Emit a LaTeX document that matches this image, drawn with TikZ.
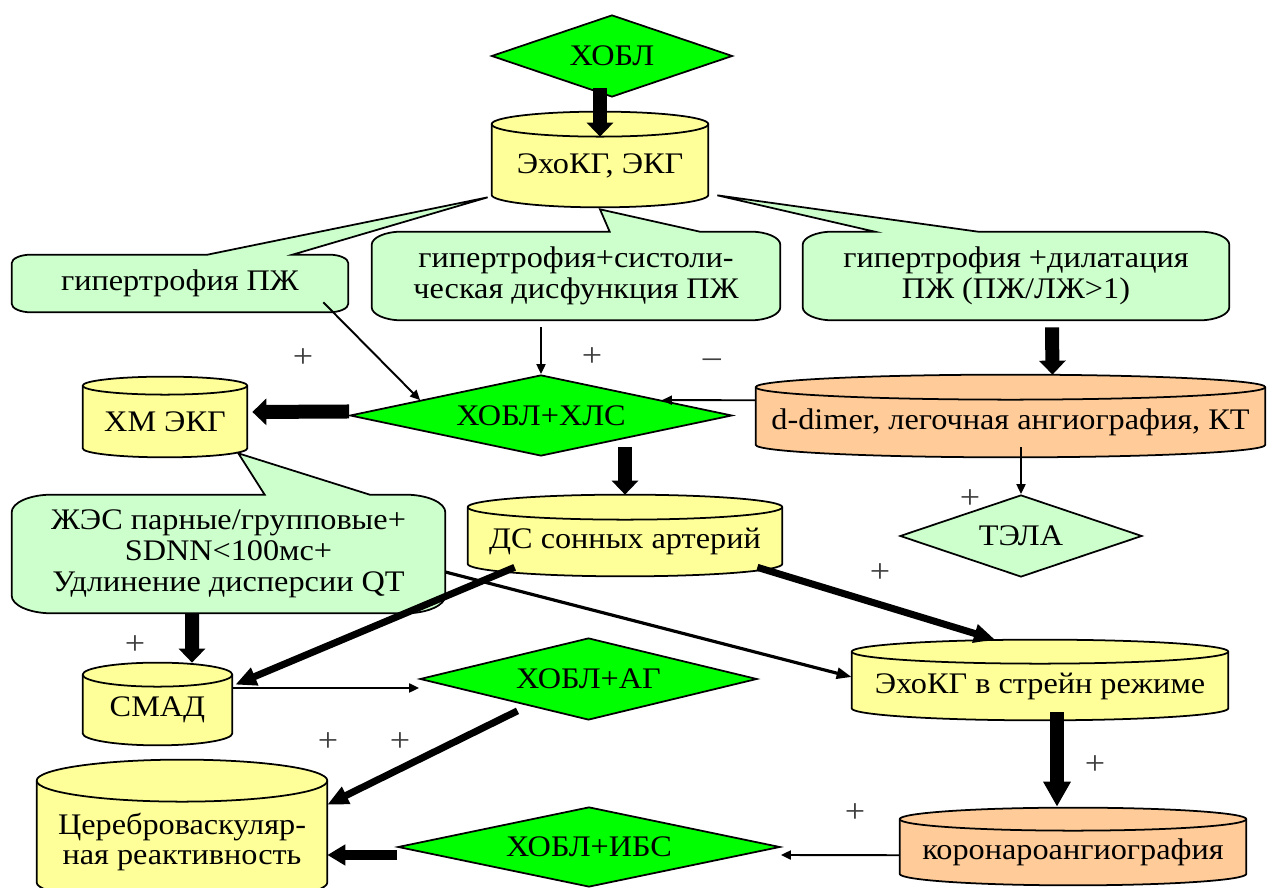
\documentclass[tikz,border=0pt]{standalone}
\usepackage{fontspec}
\setmainfont{Liberation Serif}[FakeStretch=1.08]
\usetikzlibrary{shapes.geometric, arrows.meta, calc, backgrounds}
\definecolor{mygreen}{RGB}{0,255,0}
\definecolor{mylightgreen}{RGB}{204,255,204}
\definecolor{myyellow}{RGB}{255,255,153}
\definecolor{myorange}{RGB}{255,204,153}

% cylinder behind a named node: node, fill, half height of the end ellipse
\newcommand{\drum}[3]{%
  \draw[fill=#2, line width=1pt] let \p1=($(#1.east)-(#1.west)$) in
    (#1.north west) -- ([yshift=#3]#1.south west)
    arc[start angle=180, end angle=360, x radius=0.5*\x1, y radius=#3]
    -- (#1.north east)
    arc[start angle=0, end angle=180, x radius=0.5*\x1, y radius=#3] -- cycle;
  \draw[line width=1pt] let \p1=($(#1.east)-(#1.west)$) in
    (#1.north west) arc[start angle=180, end angle=360, x radius=0.5*\x1, y radius=#3];
}
% speech bubble behind a named node: node, tip, pointer base (from left edge)
\newcommand{\bubble}[4]{%
  \draw[fill=mylightgreen, line width=1pt] let \p1=($(#1.north east)-(#1.south west)$), \n1={0.15*\y1}, \n2={0.34*\y1} in
    ($(#1.north west)+(#3,0)$) -- (#2) -- ($(#1.north west)+(#4,0)$)
    -- ($(#1.north east)-(\n2,0)$) arc[start angle=90, end angle=0, x radius=\n2, y radius=\n1]
    -- ($(#1.south east)+(0,\n1)$) arc[start angle=0, end angle=-90, x radius=\n2, y radius=\n1]
    -- ($(#1.south west)+(\n2,0)$) arc[start angle=270, end angle=180, x radius=\n2, y radius=\n1]
    -- ($(#1.north west)-(0,\n1)$) arc[start angle=180, end angle=90, x radius=\n2, y radius=\n1]
    -- cycle;
}

\begin{document}
\begin{tikzpicture}[font=\fontsize{17}{17.6}\selectfont,
  decision/.style={diamond, draw, line width=1pt, fill=mygreen, aspect=4, inner sep=0pt},
  store/.style={inner sep=0pt, align=center},
  sign/.style={text=black!75, font=\fontsize{19}{19}\selectfont, inner sep=0pt},
  link/.style={line width=1.1pt, -{Triangle[length=0.2cm,width=0.18cm]}},
  midlink/.style={line width=1.8pt, -{Triangle[length=0.3cm,width=0.22cm]}},
  boldlink/.style={line width=4pt, -{Triangle[length=0.42cm,width=0.36cm]}},
  blockarrow/.style={line width=0.28cm, -{Triangle[length=0.28cm,width=0.52cm]}}]
  \useasboundingbox (0,0) rectangle (25.4,17.76);

  % ХОБЛ
  \node (hobl) at (12.24,16.64) [decision, minimum width=4.82cm, minimum height=1.64cm] {ХОБЛ};

  % ЭхоКГ, ЭКГ
  \node (echo) at (12,14.445) [store, minimum width=4.32cm, minimum height=1.65cm] {ЭхоКГ, ЭКГ};

  % findings
  \node (hyp1) at (3.6,12.09) [store, minimum width=6.72cm, minimum height=1.14cm] {гипертрофия ПЖ};
  \node (hyp2) at (11.52,12.24) [store, minimum width=8.16cm, minimum height=1.76cm] {гипертрофия+систоли-\\ческая дисфункция ПЖ};
  \node (hyp3) at (20.32,12.24) [store, minimum width=8.52cm, minimum height=1.76cm] {гипертрофия +дилатация\\ПЖ (ПЖ/ЛЖ>1)};

  % ХОБЛ+ХЛС
  \node (hls) at (10.82,9.45) [decision, minimum width=7.64cm, minimum height=1.62cm] {ХОБЛ+ХЛС};
  \node (hmekg) at (3.3,9.33) [store, minimum width=3.28cm, minimum height=1.42cm] {ХМ ЭКГ};
  \node (ddim) at (20.21,9.315) [store, minimum width=10.18cm, minimum height=1.39cm] {d-dimer, легочная ангиография, КТ};

  % second row
  \node (zhes) at (4.57,6.68) [store, minimum width=8.66cm, minimum height=2.36cm] {ЖЭС парные/групповые+\\SDNN<100мс+\\Удлинение дисперсии QT};
  \node (ds) at (12.5,6.925) [store, minimum width=6.28cm, minimum height=1.37cm] {ДС сонных артерий};
  \node (tela) at (20.42,7.04) [decision, fill=mylightgreen, minimum width=4.84cm, minimum height=1.64cm] {ТЭЛА};

  % third row
  \node (smad) at (3.15,3.56) [store, minimum width=2.98cm, minimum height=1.4cm] {СМАД};
  \node (agd) at (11.77,4.18) [decision, minimum width=6.74cm, minimum height=1.64cm] {ХОБЛ+АГ};
  \node (strain) at (20.8,4.04) [store, minimum width=7.52cm, minimum height=1.36cm] {ЭхоКГ в стрейн режиме};

  % bottom row
  \node (cereb) at (3.64,0.92) [store, minimum width=5.8cm, minimum height=2.44cm] {Цереброваскуляр-\\ная реактивность};
  \node (ibs) at (11.78,0.82) [decision, minimum width=7.64cm, minimum height=1.6cm] {ХОБЛ+ИБС};
  \node (kor) at (21.46,0.715) [store, minimum width=6.92cm, minimum height=1.31cm] {коронароангиография};

  \begin{scope}[on background layer]
    \drum{echo}{myyellow}{0.25cm}
    \drum{hmekg}{myyellow}{0.18cm}
    \drum{ddim}{myorange}{0.25cm}
    \drum{ds}{myyellow}{0.25cm}
    \drum{smad}{myyellow}{0.24cm}
    \drum{strain}{myyellow}{0.24cm}
    \drum{kor}{myorange}{0.23cm}
    \drum{cereb}{myyellow}{0.42cm}
    \bubble{hyp1}{[xshift=-0.08cm,yshift=0.2cm]echo.south west}{3.92cm}{5.62cm}
    \bubble{hyp2}{[yshift=-0.04cm]echo.south}{4.76cm}{6.56cm}
    \bubble{hyp3}{[xshift=0.18cm,yshift=0.24cm]echo.south east}{1.44cm}{3.5cm}
    \bubble{zhes}{[xshift=-0.18cm,yshift=0.08cm]hmekg.south east}{5.06cm}{7.16cm}
  \end{scope}

  % signs
  \node (plus1) at (6.06,10.6) [sign] {+};
  \node (plus2) at (11.84,10.62) [sign] {+};
  \node (minus1) at (14.24,10.5) [sign] {–};
  \node (plus3) at (19.4,7.78) [sign] {+};
  \node (plus4) at (17.6,6.3) [sign] {+};
  \node (plus5) at (2.7,4.86) [sign] {+};
  \node (plus6) at (6.56,2.92) [sign] {+};
  \node (plus7) at (8.0,2.92) [sign] {+};
  \node (plus8) at (21.9,2.46) [sign] {+};
  \node (plus9) at (17.1,1.5) [sign] {+};

  % ХОБЛ to ЭхоКГ
  \draw[blockarrow] ([xshift=-0.24cm,yshift=0.2cm]hobl.south) -- ([yshift=-0.25cm]echo.north);

  % findings to ХОБЛ+ХЛС
  \draw[link] ([xshift=-0.5cm,yshift=0.2cm]hyp1.south east) -- ($(hls.west)!0.37!(hls.north)$);
  \draw[link] ($(hls.north |- hyp2.south)+(0,-0.14)$) -- (hls.north);
  \draw[blockarrow] ([xshift=0.72cm,yshift=-0.14cm]hyp3.south) -- ([xshift=0.84cm,yshift=0.25cm]ddim.north);
  \draw[link] ([yshift=0.44cm]ddim.west) -- ($(hls.north)!0.63!(hls.east)$);
  \draw[link] ($(tela.north |- ddim.south)+(0,0.2)$) -- (tela.north);

  % ХОБЛ+ХЛС outputs
  \draw[blockarrow] ([yshift=0.08cm]hls.west) -- ([xshift=0.1cm,yshift=0.19cm]hmekg.east);
  \draw[blockarrow] ($(ds.north |- hls.south)+(0,0.2)$) -- ([yshift=0.25cm]ds.north);

  % ЖЭС and ДС outputs
  \draw[blockarrow] ([xshift=-0.73cm]zhes.south) -- ([xshift=0.69cm,yshift=0.24cm]smad.north);
  \draw[midlink] ([yshift=-0.36cm]zhes.east) -- ([yshift=0.18cm]strain.west);
  \draw[boldlink] ([xshift=0.94cm,yshift=0.18cm]ds.south west) -- ([xshift=0.06cm,yshift=-0.2cm]smad.north east);
  \draw[boldlink] ([xshift=-0.5cm,yshift=0.18cm]ds.south east) -- ([xshift=-0.9cm,yshift=0.24cm]strain.north);

  % lower part
  \draw[link] ([yshift=0.44cm]smad.east) -- ([yshift=-0.18cm]agd.west);
  \draw[boldlink] ([xshift=-1.42cm,yshift=0.2cm]agd.south) -- ([yshift=-0.48cm]cereb.north east);
  \draw[blockarrow, line width=0.2cm, -{Triangle[length=0.36cm,width=0.4cm]}] ([yshift=-0.16cm]ibs.west) -- ([yshift=-0.26cm]cereb.east);
  \draw[link] ([yshift=-0.06cm]kor.west) -- ([yshift=-0.16cm]ibs.east);
  \draw[blockarrow, -{Triangle[length=0.5cm,width=0.52cm]}] ([xshift=0.34cm,yshift=0.16cm]strain.south) -- ([xshift=-0.32cm,yshift=0.25cm]kor.north);
\end{tikzpicture}
\end{document}
